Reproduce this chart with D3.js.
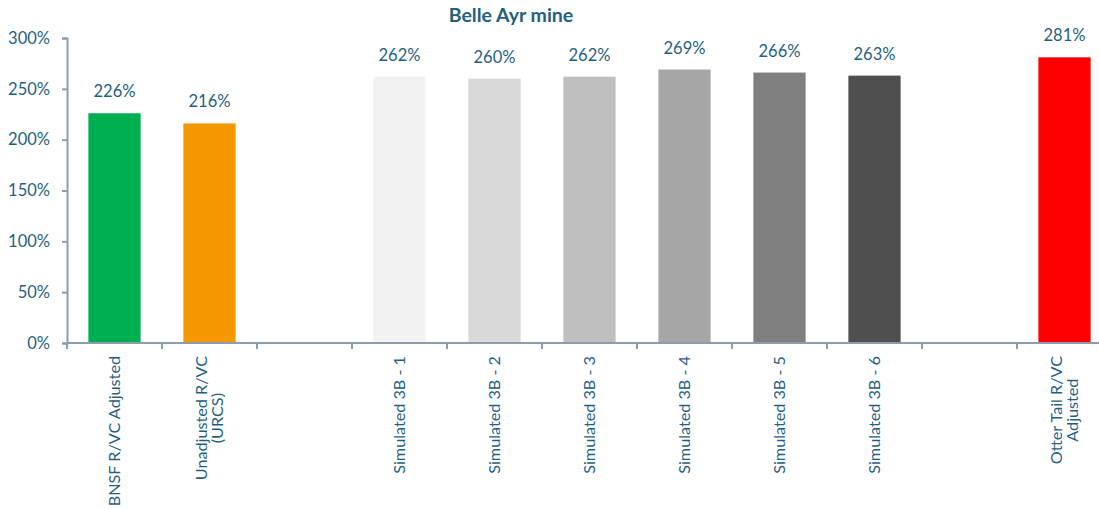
<!DOCTYPE html>
<html>
<head>
<meta charset="utf-8">
<script src="https://cdn.jsdelivr.net/npm/d3@7"></script>
<style>
  body { margin: 0; background: #fff; }
  text { font-family: Lato, "Open Sans", sans-serif; fill: #1f5f82; }
</style>
</head>
<body>
<svg width="1099" height="509"></svg>
<script>
// categories (blank slots are kept as spacers)
let categories = ['BNSF R/VC Adjusted', 'Unadjusted R/VC\n(URCS)', '',
  'Simulated 3B - 1', 'Simulated 3B - 2', 'Simulated 3B - 3',
  'Simulated 3B - 4', 'Simulated 3B - 5', 'Simulated 3B - 6', '',
  'Otter Tail R/VC\nAdjusted'];
let values = [226, 216, null, 262, 260, 262, 269, 266, 263, null, 281];
let yTicks = [0, 50, 100, 150, 200, 250, 300];

let colors = ['#00b050', '#f39800', 'none', '#f2f2f2', '#d9d9d9', '#bfbfbf',
  '#a6a6a6', '#808080', '#4f4f4f', 'none', '#ff0000'];

let svg = d3.select('svg'),
  margin = { top: 38, left: 67, bottom: 166 },
  height = +svg.attr('height') - margin.top - margin.bottom,
  width = 1045;

let keys = categories.map((c, i) => i);

let x = d3.scaleBand()
  .domain(keys)
  .range([margin.left, margin.left + width])
  .paddingInner(0.45)
  .paddingOuter(0.225);

let y = d3.scaleLinear()
  .domain([0, 300])
  .range([margin.top + height, margin.top]);

let axisColor = '#8d9db0';

// title
svg.append('text')
  .attr('x', 511)
  .attr('y', 22)
  .attr('text-anchor', 'middle')
  .attr('font-size', '19.5px')
  .attr('font-weight', 'bold')
  .text('Belle Ayr mine');

// y axis
let yAxis = svg.append('g')
  .attr('transform', `translate(${margin.left}, 0)`)
  .call(d3.axisLeft(y).tickValues(yTicks).tickSize(5).tickPadding(12).tickFormat(d => d + '%'));
yAxis.select('.domain').attr('stroke', axisColor).attr('stroke-width', 2);
yAxis.selectAll('.tick line').attr('stroke', axisColor).attr('stroke-width', 2);
yAxis.selectAll('.tick text')
  .attr('font-size', '16.5px')
  .attr('fill', '#1f5f82')
  .style('font-family', 'Lato, sans-serif');

// bars
let bars = svg.append('g')
  .selectAll('rect')
  .data(keys.filter(i => values[i] !== null))
  .enter().append('rect')
  .attr('x', i => x(i))
  .attr('width', x.bandwidth())
  .attr('y', i => y(values[i]))
  .attr('height', i => y(0) - y(values[i]))
  .attr('fill', i => colors[i]);

// value labels
svg.append('g')
  .selectAll('text')
  .data(keys.filter(i => values[i] !== null))
  .enter().append('text')
  .attr('x', i => x(i) + x.bandwidth() / 2)
  .attr('y', i => y(values[i]) - 16)
  .attr('text-anchor', 'middle')
  .attr('font-size', '16.5px')
  .text(i => values[i] + '%');

// x axis line and ticks between slots
let step = x.step();
let x0 = margin.left;
let xAxis = svg.append('g');
xAxis.append('line')
  .attr('x1', x0).attr('x2', 1099)
  .attr('y1', y(0)).attr('y2', y(0))
  .attr('stroke', axisColor).attr('stroke-width', 2);
xAxis.selectAll('.xt')
  .data(d3.range(categories.length + 1))
  .enter().append('line')
  .attr('class', 'xt')
  .attr('x1', k => x0 + k * step).attr('x2', k => x0 + k * step)
  .attr('y1', y(0)).attr('y2', y(0) + 6)
  .attr('stroke', axisColor).attr('stroke-width', 2);

// rotated category labels
let lineH = 15.5;
let labels = svg.append('g')
  .selectAll('g')
  .data(keys.filter(i => categories[i] !== ''))
  .enter().append('g')
  .attr('transform', i => `translate(${x(i) + x.bandwidth() / 2}, 356) rotate(-90)`);

labels.each(function (i) {
  let lines = categories[i].split('\n');
  let g = d3.select(this);
  let t = g.selectAll('text')
    .data(lines)
    .enter().append('text')
    .attr('font-size', '16.2px')
    .attr('dy', '0.35em')
    .attr('text-anchor', 'middle')
    .text(d => d);
  // top-align the block, centre lines within it
  let widest = d3.max(t.nodes(), n => n.getComputedTextLength());
  t.attr('x', -widest / 2)
    .attr('y', (d, j) => (j - (lines.length - 1) / 2) * lineH);
});
</script>
</body>
</html>
